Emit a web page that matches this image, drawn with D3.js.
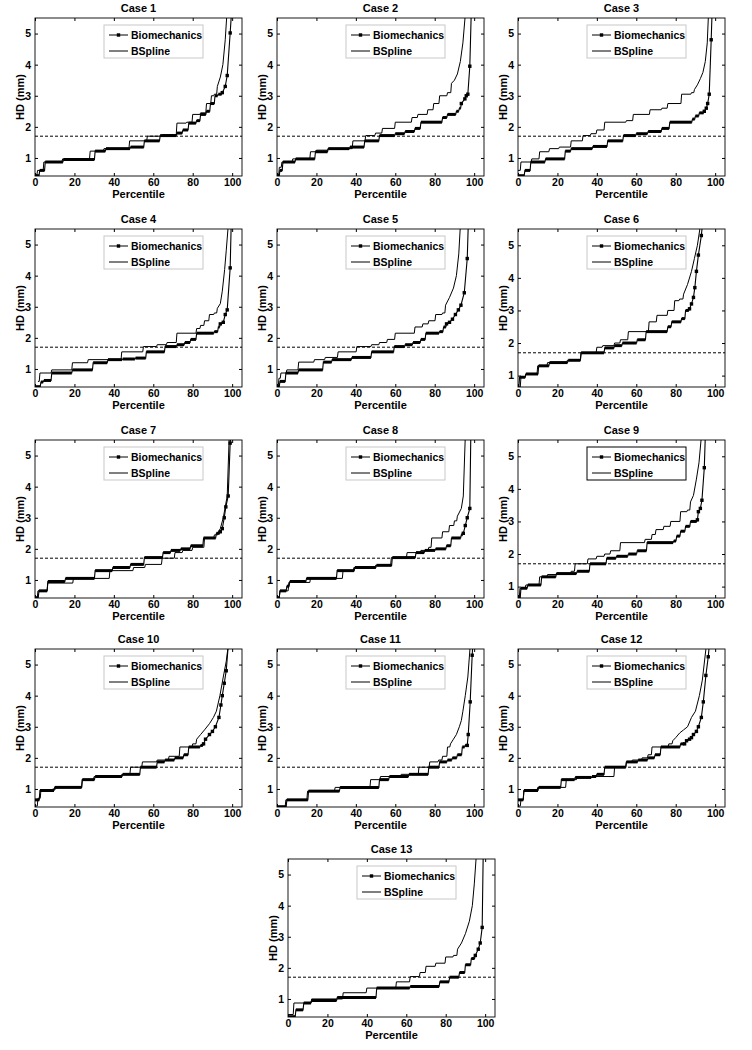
<!DOCTYPE html>
<html lang="en">
<head>
<meta charset="utf-8">
<title>HD percentile curves</title>
<script src="https://cdn.jsdelivr.net/npm/d3@7"></script>
<style>
  body { margin: 0; background: #fff; }
  text { font-family: "Liberation Sans", Arial, sans-serif; font-weight: bold; fill: #000; }
</style>
</head>
<body>
<script>

// chart text and axis settings
var caseTitles = ["Case 1","Case 2","Case 3","Case 4","Case 5","Case 6","Case 7",
                  "Case 8","Case 9","Case 10","Case 11","Case 12","Case 13"];
var legendLabels = ["Biomechanics", "BSpline"];
var xTicks = [0, 20, 40, 60, 80, 100];
var yTicks = [1, 2, 3, 4, 5];
var xLimits = [0, 105];
var yUpper = 5.5;
var yLower = [0.42, 0.42, 0.42, 0.42, 0.42, 0.65, 0.42, 0.42, 0.65, 0.42, 0.42, 0.42, 0.42];
var threshold = 1.7;

// each "Steps" entry: [percentile where level starts, HD]; "Tail" entries: [percentile, HD] joined directly
var bio1Steps = [[0,0.43],[2.4,0.6],[5.2,0.87],[14.5,0.95],[30.5,1.22],[36,1.3],[48.5,1.35],[55.5,1.55],[63.5,1.72],[72,1.8],[75,1.9],[78,2.12],[82,2.2],[84,2.4],[87,2.5],[89,2.75],[91.3,3.0],[93,3.05]];
var bio1Tail = [[95,3.1],[96.5,3.3],[97.5,3.65],[99,5.02],[99.6,5.6]];
var bsp1Steps = [[0,0.45],[1.3,0.6],[4.5,0.87],[14,0.97],[28,1.22],[35,1.3],[48,1.55],[57,1.7],[65,1.75],[72,2.12],[77,2.15],[80,2.4],[84,2.45],[87,2.75],[89.5,3.0],[91,3.05]];
var bsp1Tail = [[92.5,3.3],[94,3.6],[95.3,4.0],[96.5,4.8],[97.3,5.6]];

var bio2Steps = [[0,0.43],[1.5,0.6],[3,0.87],[9.5,0.97],[19.5,1.2],[26,1.3],[37,1.35],[44.5,1.55],[52,1.72],[60,1.78],[65,1.85],[70,1.95],[73,2.15],[84,2.3],[86.5,2.4],[91,2.5],[92.5,2.6]];
var bio2Tail = [[93.5,2.75],[95.3,2.9],[96,3.0],[96.8,3.05],[97.8,3.95],[98.5,5.6]];
var bsp2Steps = [[0,0.45],[1.2,0.7],[2.5,0.87],[8,0.97],[17,1.2],[20,1.25],[26,1.3],[38.5,1.55],[45,1.72],[50,1.8],[53.5,1.95],[60,2.15],[68.5,2.3],[71.5,2.4],[76.5,2.55],[79.5,2.75],[82.5,3.0],[86.5,3.1]];
var bsp2Tail = [[88.5,3.4],[90,3.5],[91.5,3.7],[93,4.1],[94.3,4.7],[95.5,5.6]];

var bio3Steps = [[0,0.43],[3.5,0.6],[6.5,0.87],[14,0.97],[24,1.22],[27,1.3],[38,1.37],[45.5,1.55],[53.5,1.72],[60,1.78],[66,1.85],[73,1.95],[77,2.15],[88.5,2.25],[90,2.35],[92,2.45]];
var bio3Tail = [[94.5,2.5],[95.5,2.6],[96.2,2.75],[97,3.05],[98,4.8],[98.4,5.6]];
var bsp3Steps = [[0,0.6],[1.5,0.87],[7,0.97],[11,1.2],[16,1.3],[21,1.35],[27,1.55],[33,1.72],[37,1.78],[40,1.9],[44,2.15],[55,2.2],[58.5,2.4],[67,2.55],[73,2.6],[76,2.75],[83,3.05],[88,3.1]];
var bsp3Tail = [[89.5,3.2],[91,3.35],[92.5,3.55],[93.8,3.75],[95,4.1],[96,4.7],[96.6,5.6]];

var bio4Steps = [[0,0.43],[3,0.58],[4.5,0.63],[8.5,0.87],[19,0.97],[29.5,1.2],[37,1.3],[44.5,1.32],[51,1.35],[56.5,1.55],[66,1.72],[72,1.78],[76,1.85],[79,1.95],[82,2.15],[91,2.2],[93,2.35]];
var bio4Tail = [[94,2.45],[95.5,2.5],[96.5,2.75],[97.5,2.9],[99,4.25],[99.5,5.6]];
var bsp4Steps = [[1.5,0.6],[2.5,0.87],[8.5,0.97],[19,1.2],[27,1.3],[44,1.55],[55,1.72],[62,1.78],[67,1.85],[72,2.15],[82,2.3],[84,2.4],[86,2.55],[88.5,2.75],[91,2.8]];
var bsp4Tail = [[92.5,2.95],[94,3.1],[95,3.5],[96.2,4.2],[97,4.8],[98,5.6]];

var bio5Steps = [[0,0.43],[1.5,0.6],[4.5,0.87],[11,0.97],[23.5,1.22],[28,1.3],[38,1.37],[48,1.55],[59.5,1.72],[65,1.78],[69,1.85],[73,1.95],[75.5,2.15],[82.5,2.2],[84.5,2.35]];
var bio5Tail = [[86,2.45],[87.5,2.5],[89,2.6],[90.5,2.75],[92,2.9],[93.3,3.05],[95,3.45],[96.5,4.55],[97,5.6]];
var bsp5Steps = [[0,0.45],[1,0.7],[2,0.87],[5,0.97],[11,1.22],[19,1.3],[24.5,1.37],[31,1.55],[40.5,1.72],[48,1.78],[52,1.85],[56,1.95],[60,2.15],[70,2.35],[74,2.45],[77,2.55],[80.5,2.75],[84,2.8]];
var bsp5Tail = [[85.5,3.05],[87.5,3.3],[89.5,3.6],[91,4.0],[92.2,4.7],[93,5.6]];

var bio6Steps = [[0,0.67],[0.8,0.95],[4,1.05],[10.5,1.3],[16,1.4],[25.5,1.47],[32,1.7],[44,1.85],[49,1.92],[53,2.0],[60.5,2.1],[65,2.35],[76,2.5],[78,2.65],[83,2.75],[85,3.0]];
var bio6Tail = [[87,3.05],[88,3.2],[89,3.4],[89.7,3.7],[90.5,4.2],[91.5,4.7],[93,5.3],[93.5,5.6]];
var bsp6Steps = [[0.5,0.65],[1.5,0.95],[4,1.05],[10,1.3],[15,1.4],[25,1.47],[32,1.7],[40,1.87],[43,1.92],[49,2.0],[52,2.1],[56,2.35],[66.5,2.65],[70.5,2.85],[76,3.0],[79.5,3.3],[82,3.35]];
var bsp6Tail = [[84,3.5],[86,3.8],[88,4.2],[89.5,4.6],[91,5.0],[92.5,5.6]];

var bio7Steps = [[0,0.43],[2,0.65],[6.5,0.95],[15.5,1.05],[30.5,1.3],[39.5,1.4],[48.5,1.5],[55.5,1.72],[65,1.88],[69,1.95],[74,2.0],[79,2.1],[85.5,2.35],[92,2.5]];
var bio7Tail = [[94,2.55],[95,2.65],[96,3.0],[96.8,3.35],[98,3.7],[99,5.4],[99.3,5.6]];
var bsp7Steps = [[0,0.43],[1.5,0.65],[6.5,0.9],[19.5,1.05],[38,1.3],[50,1.4],[56,1.5],[64.5,1.7],[71,1.88],[75,1.95],[80,2.05],[86,2.35],[91,2.45]];
var bsp7Tail = [[93,2.55],[94,2.65],[95.5,3.0],[96.5,3.35],[97.5,3.7],[98.5,5.6]];

var bio8Steps = [[0,0.43],[1.5,0.65],[5,0.8],[6.5,0.95],[15,1.05],[30.5,1.3],[39.5,1.4],[50.5,1.47],[58.5,1.72],[70.5,1.88],[75,1.95],[80.5,2.0],[86,2.1],[88.5,2.35],[93.5,2.45]];
var bio8Tail = [[94.5,2.5],[95.5,2.75],[96.5,3.0],[97.8,3.3],[98.3,5.6]];
var bsp8Steps = [[0,0.43],[1.5,0.65],[6,0.92],[17,1.05],[33.5,1.3],[39,1.4],[50,1.47],[58,1.72],[66,1.88],[73,1.95],[77,2.05],[78.5,2.35],[84,2.55],[87.5,2.75],[90,2.9]];
var bsp8Tail = [[91.5,3.05],[93.5,3.3],[94.5,3.7],[95.5,5.6]];

var bio9Steps = [[0,0.67],[1.5,0.95],[5,1.05],[12,1.3],[19.5,1.4],[30,1.47],[36.5,1.7],[45,1.87],[50,1.93],[56,2.0],[60.5,2.1],[65.5,2.35],[79,2.4],[80.5,2.55],[82.5,2.7],[85,2.85],[87.5,3.0]];
var bio9Tail = [[91,3.05],[91.5,3.3],[92.5,3.4],[93.3,3.65],[94.5,4.65],[95,5.6]];
var bsp9Steps = [[0,0.66],[1,0.95],[4,1.05],[11,1.3],[15,1.37],[20,1.4],[27,1.47],[29,1.7],[35.5,1.85],[40,1.93],[44,2.0],[47,2.1],[52,2.35],[64.5,2.45],[68,2.6],[70,2.75],[74,2.85],[77.5,3.0],[82.5,3.3],[86,3.35]];
var bsp9Tail = [[87.5,3.6],[89,3.8],[90.5,4.3],[91.8,4.8],[93,5.6]];

var bio10Steps = [[0,0.65],[2.5,0.95],[10,1.05],[24,1.3],[30.5,1.4],[44.5,1.47],[53.5,1.7],[62,1.87],[66,1.93],[71,2.0],[75.5,2.1],[78,2.35],[84,2.4]];
var bio10Tail = [[85.5,2.45],[86.5,2.6],[88.5,2.75],[90,2.85],[91.5,3.0],[93.3,3.3],[94.3,3.7],[95,4.0],[96,4.4],[97,4.8],[98,5.6]];
var bsp10Steps = [[0,0.45],[1.5,0.7],[3,0.95],[9,1.0],[11,1.05],[24,1.3],[30,1.4],[44,1.47],[48.5,1.7],[54.5,1.87],[62,1.93],[68,2.05],[73.5,2.35],[80,2.45]];
var bsp10Tail = [[82,2.6],[84,2.75],[86,2.9],[88.5,3.1],[90.5,3.3],[92,3.5],[93.8,4.0],[95.5,4.6],[97,5.1],[98,5.6]];

var bio11Steps = [[0,0.43],[5,0.65],[16,0.93],[32,1.05],[52,1.3],[57,1.4],[67,1.47],[77,1.7],[82.5,1.87],[86.5,1.93],[89,2.0],[91.5,2.1],[94,2.35],[95.5,2.4]];
var bio11Tail = [[96.5,2.4],[97,2.75],[98,3.8],[99,5.3],[99.3,5.6]];
var bsp11Steps = [[0,0.43],[4.5,0.65],[15.5,0.93],[29.5,1.05],[47.5,1.3],[52.5,1.4],[63,1.47],[72,1.7],[77.5,1.87],[82,1.93],[84,2.05],[86.5,2.35]];
var bsp11Tail = [[88,2.45],[89.5,2.6],[91,2.75],[92.5,3.0],[93.5,3.2],[94.3,3.5],[95.5,4.0],[96.8,4.6],[98,5.6]];

var bio12Steps = [[0,0.65],[3,0.95],[10.5,1.05],[22,1.3],[29,1.37],[37.5,1.4],[40,1.47],[44,1.7],[55,1.87],[61,1.93],[66,2.0],[69.5,2.1],[72.5,2.35],[82.5,2.45]];
var bio12Tail = [[84.5,2.45],[85.5,2.55],[87,2.6],[88,2.65],[89,2.75],[90.5,2.85],[91.5,3.0],[93,3.3],[94,3.8],[95.3,4.65],[96.5,5.25],[97,5.6]];
var bsp12Steps = [[0,0.45],[1.5,0.65],[3,0.95],[10,1.05],[24.5,1.3],[30,1.37],[39,1.4],[49,1.7],[55,1.87],[58,1.93],[63,2.0],[66,2.1],[68,2.35],[76.5,2.45]];
var bsp12Tail = [[78.5,2.55],[80,2.65],[82,2.8],[84,2.9],[86,3.0],[88,3.3],[90,3.5],[92,4.0],[93.5,4.5],[95.5,5.6]];

var bio13Steps = [[0,0.43],[4,0.65],[8,0.87],[12,0.95],[25,1.05],[45,1.35],[62,1.4],[77,1.55],[82,1.7],[87,1.85],[90,2.1],[93,2.3]];
var bio13Tail = [[95,2.4],[96.5,2.6],[97.5,2.8],[98.5,3.3],[99,5.6]];
var bsp13Steps = [[0,0.5],[3,0.87],[12,1.0],[28,1.2],[40,1.35],[55,1.55],[62,1.72],[67,1.85],[70,2.05],[75,2.15],[80,2.35],[84,2.4]];
var bsp13Tail = [[86,2.6],[88,2.8],[90,3.1],[92,3.5],[93.5,4.0],[94.5,4.7],[95.5,5.6]];

var bioSteps = [bio1Steps,bio2Steps,bio3Steps,bio4Steps,bio5Steps,bio6Steps,bio7Steps,bio8Steps,bio9Steps,bio10Steps,bio11Steps,bio12Steps,bio13Steps];
var bioTail = [bio1Tail,bio2Tail,bio3Tail,bio4Tail,bio5Tail,bio6Tail,bio7Tail,bio8Tail,bio9Tail,bio10Tail,bio11Tail,bio12Tail,bio13Tail];
var bspSteps = [bsp1Steps,bsp2Steps,bsp3Steps,bsp4Steps,bsp5Steps,bsp6Steps,bsp7Steps,bsp8Steps,bsp9Steps,bsp10Steps,bsp11Steps,bsp12Steps,bsp13Steps];
var bspTail = [bsp1Tail,bsp2Tail,bsp3Tail,bsp4Tail,bsp5Tail,bsp6Tail,bsp7Tail,bsp8Tail,bsp9Tail,bsp10Tail,bsp11Tail,bsp12Tail,bsp13Tail];

// layout
var w = 752, h = 1050;
var plotW = 207, plotH = 158;
var colLeft = [35, 277, 518];
var rowTop = [18, 229, 440, 649, 859];
var lastLeft = 288;
var riser = 0.35;   // percentile width of each jump

var svg = d3.select("body").append("svg")
  .attr("width", w)
  .attr("height", h);

// turn level runs + tail into a polyline, also return flat runs
function buildPath(steps, tail) {
  var pts = [], flats = [];
  for (var i = 0; i < steps.length; i++) {
    var nextX = i + 1 < steps.length ? steps[i + 1][0] : tail[0][0];
    var endX = nextX - riser;
    pts.push(steps[i]);
    if (endX > steps[i][0]) {
      pts.push([endX, steps[i][1]]);
      flats.push([steps[i][0], endX, steps[i][1]]);
    }
  }
  return { pts: pts.concat(tail), flats: flats };
}

caseTitles.forEach(function(title, i) {
  var left = i === 12 ? lastLeft : colLeft[i % 3];
  var top = rowTop[Math.floor(i / 3)];

  var xScale = d3.scaleLinear().domain(xLimits).range([0, plotW]);
  var yScale = d3.scaleLinear().domain([yLower[i], yUpper]).range([plotH, 0]);

  var g = svg.append("g").attr("transform", "translate(" + left + "," + top + ")");

  g.append("clipPath").attr("id", "clip" + i)
    .append("rect").attr("width", plotW).attr("height", plotH);

  var plot = g.append("g").attr("clip-path", "url(#clip" + i + ")");

  // threshold line
  plot.append("line")
    .attr("x1", 0).attr("x2", plotW)
    .attr("y1", yScale(threshold)).attr("y2", yScale(threshold))
    .attr("stroke", "#000").attr("stroke-width", 1)
    .attr("stroke-dasharray", "3,2");

  var line = d3.line()
    .x(function(d) { return xScale(d[0]); })
    .y(function(d) { return yScale(d[1]); });

  var bsp = buildPath(bspSteps[i], bspTail[i]);
  plot.append("path")
    .attr("d", line(bsp.pts))
    .attr("fill", "none").attr("stroke", "#000").attr("stroke-width", 1);

  var bio = buildPath(bioSteps[i], bioTail[i]);
  plot.append("path")
    .attr("d", line(bio.pts))
    .attr("fill", "none").attr("stroke", "#000").attr("stroke-width", 1.1);
  plot.selectAll(".flat")
    .data(bio.flats)
    .enter().append("line")
    .attr("x1", function(d) { return xScale(d[0]); })
    .attr("x2", function(d) { return xScale(d[1]); })
    .attr("y1", function(d) { return yScale(d[2]); })
    .attr("y2", function(d) { return yScale(d[2]); })
    .attr("stroke", "#000").attr("stroke-width", 3);
  plot.selectAll(".mark")
    .data(bioTail[i])
    .enter().append("rect")
    .attr("x", function(d) { return xScale(d[0]) - 1.7; })
    .attr("y", function(d) { return yScale(d[1]) - 1.7; })
    .attr("width", 3.4).attr("height", 3.4)
    .attr("fill", "#000");

  // axes, ticks inward on all four sides
  var xAxis = d3.axisBottom(xScale).tickValues(xTicks).tickSize(-3).tickPadding(3);
  var yAxis = d3.axisLeft(yScale).tickValues(yTicks).tickSize(-3).tickPadding(4)
    .tickFormat(d3.format("d"));

  var gx = g.append("g").attr("transform", "translate(0," + plotH + ")").call(xAxis);
  var gy = g.append("g").call(yAxis);
  g.append("g").call(d3.axisTop(xScale).tickValues(xTicks).tickSize(-3).tickFormat(""));
  g.append("g").attr("transform", "translate(" + plotW + ",0)")
    .call(d3.axisRight(yScale).tickValues(yTicks).tickSize(-3).tickFormat(""));

  g.selectAll(".domain").remove();
  g.selectAll(".tick line").attr("stroke", "#000");
  gx.selectAll("text").style("font-size", "10.5px");
  gy.selectAll("text").style("font-size", "10.5px");

  g.append("rect")
    .attr("width", plotW).attr("height", plotH)
    .attr("fill", "none").attr("stroke", "#000").attr("stroke-width", 0.9);

  // labels
  g.append("text")
    .attr("x", plotW / 2).attr("y", -6)
    .attr("text-anchor", "middle")
    .style("font-size", "11px")
    .text(title);

  g.append("text")
    .attr("x", plotW / 2).attr("y", plotH + 22)
    .attr("text-anchor", "middle")
    .style("font-size", "11px")
    .text("Percentile");

  g.append("text")
    .attr("transform", "translate(-11," + (plotH / 2) + ") rotate(-90)")
    .attr("text-anchor", "middle")
    .style("font-size", "11px")
    .text("HD (mm)");

  // legend
  var lg = g.append("g").attr("transform", "translate(69,7)");
  lg.append("rect")
    .attr("width", 99).attr("height", 33)
    .attr("fill", "#fff")
    .attr("stroke", i === 8 ? "#000" : "#c8c8c8").attr("stroke-width", 1);
  legendLabels.forEach(function(lab, k) {
    var yy = 10 + k * 16;
    lg.append("line")
      .attr("x1", 5).attr("x2", 24).attr("y1", yy).attr("y2", yy)
      .attr("stroke", "#000").attr("stroke-width", 1);
    if (k === 0) {
      lg.append("rect").attr("x", 12.8).attr("y", yy - 1.7)
        .attr("width", 3.4).attr("height", 3.4).attr("fill", "#000");
    }
    lg.append("text")
      .attr("x", 27).attr("y", yy + 4)
      .style("font-size", "10.5px")
      .text(lab);
  });
});

</script>
</body>
</html>
